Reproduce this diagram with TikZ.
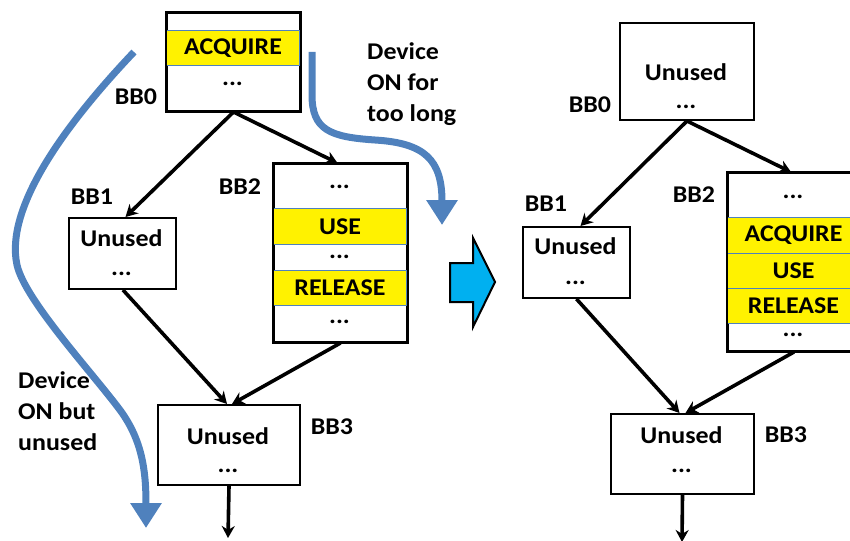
\documentclass[tikz,border=0pt]{standalone}
\usepackage{fontspec}
\setmainfont{Carlito}[FakeStretch=1.08]
\usetikzlibrary{arrows.meta}
\definecolor{steel}{RGB}{79,129,189}
\definecolor{skycyan}{RGB}{0,176,240}
\definecolor{rowline}{RGB}{79,129,189}
\tikzset{
  blk/.style={draw=black, line width=2pt, anchor=north west, inner sep=0pt, fill=white},
  hl/.style={fill=yellow, draw=rowline, line width=1pt, anchor=north west, inner sep=0pt,
             font=\bfseries\fontsize{24}{28}\selectfont},
  txt/.style={inner sep=0pt, font=\bfseries\fontsize{24}{28}\selectfont},
  note/.style={inner sep=0pt, align=left, anchor=north west,
               font=\bfseries\fontsize{24}{31}\selectfont},
  cfgedge/.style={-{Stealth[length=12pt,width=13pt]}, line width=3.6pt},
  lifetime/.style={draw=steel, line width=7pt, -{Triangle[length=25pt,width=30pt]}},
}
\begin{document}
\begin{tikzpicture}[x=1pt,y=-1pt]
\useasboundingbox (0,0) rectangle (850,540);

% ---------- original code: left CFG ----------
% BB0
\node[blk, minimum width=133pt, minimum height=98pt] (l0) at (166,12) {};
\node[hl, minimum width=133pt, minimum height=35pt] (l0acq) at (166,30) {ACQUIRE};
\node[txt] (l0dots) at (232.5,84) {...};
\draw[line width=2pt] (l0.north west) rectangle (l0.south east);
\node[txt] (l0lab) at (136,97) {BB0};

% BB1
\node[blk, minimum width=107pt, minimum height=71pt] (l1) at (68,217) {};
\node[txt] (l1u) at (121.5,238) {Unused};
\node[txt] (l1d) at (121.5,274) {...};
\node[txt] (l1lab) at (92,197) {BB1};

% BB2
\node[blk, minimum width=133pt, minimum height=178pt] (l2) at (273,163) {};
\node[txt] (l2d1) at (339.5,187) {...};
\node[hl, minimum width=133pt, minimum height=36pt] (l2use) at (273,208) {USE};
\node[txt] (l2d2) at (339.5,257) {...};
\node[hl, minimum width=133pt, minimum height=35pt] (l2rel) at (273,270) {RELEASE};
\node[txt] (l2d3) at (339.5,322) {...};
\draw[line width=2pt] (l2.north west) rectangle (l2.south east);
\node[txt] (l2lab) at (240,187) {BB2};

% BB3
\node[blk, minimum width=142pt, minimum height=80pt] (l3) at (157,404) {};
\node[txt] (l3u) at (228,436) {Unused};
\node[txt] (l3d) at (228,471) {...};
\node[txt] (l3lab) at (332,427) {BB3};
\coordinate (l3out) at (228,538);

% edges
\draw[cfgedge] (l0.south) -- ([xshift=3pt]l1.north);
\draw[cfgedge] (l0.south) -- ([xshift=-3pt]l2.north);
\draw[cfgedge] ([xshift=0.5pt]l1.south) -- ([xshift=-2pt]l3.north);
\draw[cfgedge] (l2.south) -- ([xshift=3pt]l3.north);
\draw[cfgedge] (l3.south) -- (l3out);

% power-state annotations
\coordinate (onA) at (134,52);
\coordinate (onB) at (146,528);
\draw[lifetime] (onA) .. controls (60,130) and (5,210) .. (17,265)
  .. controls (25,300) and (90,370) .. (120,410)
  .. controls (142,440) and (146,470) .. (onB);
\node[note] (unusedlab) at (18,371) {Device\\ON but\\unused};

\coordinate (longA) at (312,52);
\coordinate (longB) at (442,225);
\draw[lifetime] (longA) -- (312,95) .. controls (312,130) and (330,137) .. (375,140)
  .. controls (425,143) and (442,160) .. (longB);
\node[note] (longlab) at (367,42) {Device\\ON for\\too long};

% ---------- transformation arrow ----------
\draw[fill=skycyan, line width=2pt, line join=miter]
  (450,263) -- (473,263) -- (473,238) -- (495,282) -- (473,327) -- (473,302) -- (450,302) -- cycle;

% ---------- optimized code: right CFG ----------
% BB0
\node[blk, minimum width=134pt, minimum height=97pt] (r0) at (619,22) {};
\node[txt] (r0u) at (686,72) {Unused};
\node[txt] (r0d) at (686,107) {...};
\node[txt] (r0lab) at (590,105) {BB0};

% BB1
\node[blk, minimum width=107pt, minimum height=71pt] (r1) at (522,226) {};
\node[txt] (r1u) at (575.5,246) {Unused};
\node[txt] (r1d) at (575.5,283) {...};
\node[txt] (r1lab) at (546,204) {BB1};

% BB2
\node[blk, minimum width=132pt, minimum height=178pt] (r2) at (727,172) {};
\node[txt] (r2d1) at (793,197) {...};
\node[hl, minimum width=132pt, minimum height=36pt] (r2acq) at (727,217) {ACQUIRE};
\node[hl, minimum width=132pt, minimum height=35pt] (r2use) at (727,253) {USE};
\node[hl, minimum width=132pt, minimum height=35pt] (r2rel) at (727,288) {RELEASE};
\node[txt] (r2d2) at (793,335) {...};
\draw[line width=2pt] (r2.north west) rectangle (r2.south east);
\node[txt] (r2lab) at (694,195) {BB2};

% BB3
\node[blk, minimum width=143pt, minimum height=80pt] (r3) at (610,413) {};
\node[txt] (r3u) at (681.5,435) {Unused};
\node[txt] (r3d) at (681.5,471) {...};
\node[txt] (r3lab) at (786,435) {BB3};
\coordinate (r3out) at (682,542);

% edges
\draw[cfgedge] (r0.south) -- ([xshift=4pt]r1.north);
\draw[cfgedge] (r0.south) -- ([xshift=-3pt]r2.north);
\draw[cfgedge] ([xshift=0pt]r1.south) -- ([xshift=-3pt]r3.north);
\draw[cfgedge] (r2.south) -- ([xshift=3pt]r3.north);
\draw[cfgedge] (r3.south) -- (r3out);
\end{tikzpicture}
\end{document}
